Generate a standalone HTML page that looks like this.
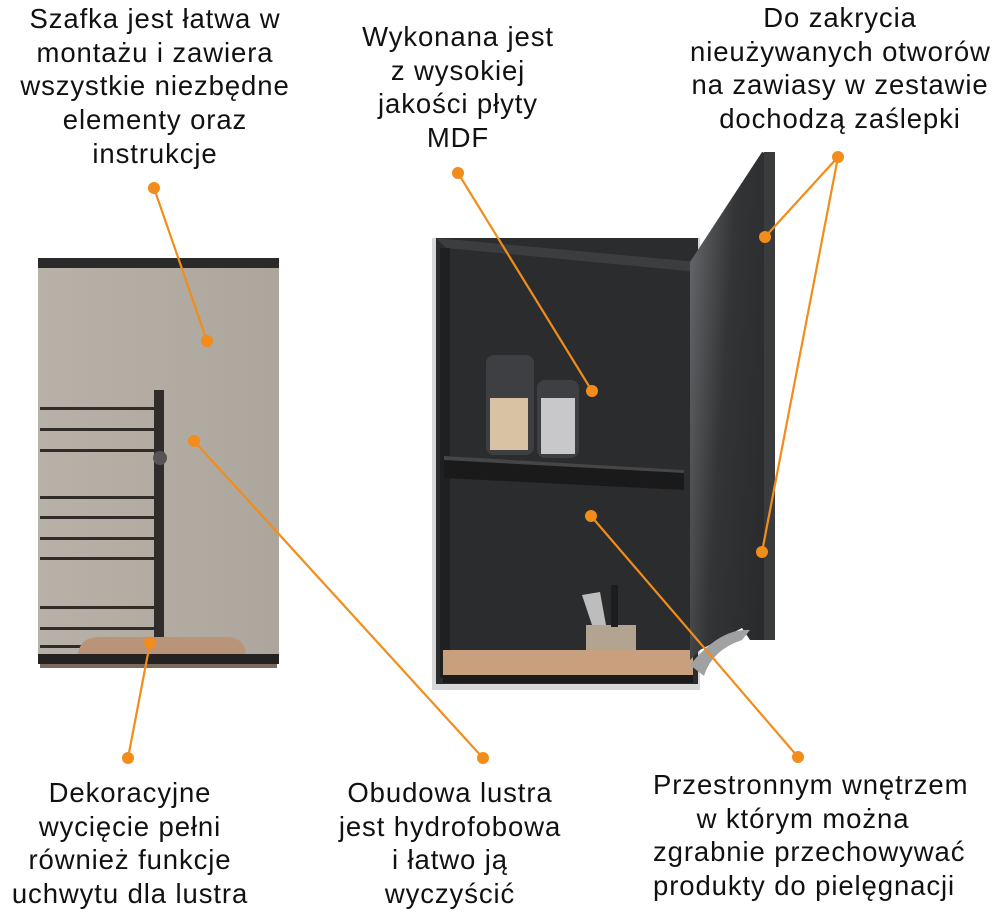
<!DOCTYPE html>
<html><head><meta charset="utf-8"><style>
html,body{margin:0;padding:0;background:#fff;}
body{width:1000px;height:913px;overflow:hidden;position:relative;font-family:"Liberation Sans",sans-serif;}
.t{position:absolute;text-align:center;font-size:27.5px;letter-spacing:0.9px;line-height:33.7px;color:#111;white-space:nowrap;}
svg{position:absolute;left:0;top:0;}
</style></head><body>
<svg width="1000" height="913" viewBox="0 0 1000 913">
<defs>
<linearGradient id="beige" x1="0" x2="1"><stop offset="0" stop-color="#b7b1a8"/><stop offset="1" stop-color="#aca69c"/></linearGradient>
<linearGradient id="door" x1="0" x2="1" y1="0" y2="0.4"><stop offset="0" stop-color="#6a6c6f"/><stop offset="0.5" stop-color="#333436"/><stop offset="1" stop-color="#2a2b2d"/></linearGradient>
</defs>
<rect x="38" y="258" width="241" height="10" fill="#2a2a2a"/>
<rect x="38" y="268" width="241" height="386" fill="url(#beige)"/>
<g fill="#2f2c2a">
<rect x="40" y="407" width="115" height="3"/><rect x="40" y="428" width="115" height="3"/><rect x="40" y="449" width="115" height="3"/>
<rect x="40" y="496" width="115" height="3"/><rect x="40" y="516" width="115" height="3"/><rect x="40" y="537" width="115" height="3"/>
<rect x="40" y="557" width="115" height="3"/><rect x="40" y="606" width="115" height="3"/><rect x="40" y="627" width="115" height="3"/>
<rect x="40" y="645" width="115" height="3"/>
<rect x="154" y="390" width="10" height="248"/>
</g>
<circle cx="160" cy="458" r="7" fill="#555"/>
<path d="M78 654 Q80 637 100 637 L226 637 Q244 637 246 654 Z" fill="#b99479"/>
<rect x="38" y="654" width="241" height="10" fill="#252322"/>
<rect x="40" y="664" width="237" height="4" fill="#7a6a5e"/>
<rect x="432" y="238" width="268" height="452" fill="#d8d8d8"/>
<rect x="436" y="238" width="262" height="446" fill="#2b2c2e"/>
<polygon points="436,238 698,262 698,272 446,248" fill="#3c3d3f"/>
<rect x="440" y="248" width="10" height="430" fill="#1f2022"/>
<polygon points="444,456 684,470 684,490 444,478" fill="#1a1a1b"/>
<polygon points="444,456 684,470 684,473 444,460" fill="#454648"/>
<rect x="486" y="355" width="48" height="100" rx="8" fill="#4a4c50" opacity="0.6"/>
<rect x="490" y="398" width="38" height="52" fill="#d7c3a4"/>
<rect x="537" y="380" width="42" height="78" rx="8" fill="#4a4c50" opacity="0.6"/>
<rect x="541" y="398" width="34" height="56" fill="#c8c8ca"/>
<rect x="443" y="650" width="250" height="25" fill="#c9a07e"/>
<rect x="443" y="675" width="250" height="8" fill="#1b1b1c"/>
<rect x="586" y="625" width="50" height="25" fill="#b3a491"/>
<polygon points="582,595 600,592 606,625 592,625" fill="#bdbdbd"/>
<rect x="611" y="585" width="7" height="42" fill="#1d1d1d"/>
<polygon points="690,262 762,152 775,156 775,640 750,640 742,628 700,650 690,660" fill="url(#door)"/>
<rect x="764" y="152" width="11" height="488" fill="#3a3b3d"/>
<path d="M690 665 Q720 628 750 630 L742 640 Q712 650 704 676 Z" fill="#9fa1a3"/>
<g stroke="#f28c1b" stroke-width="2.2" fill="none">
<line x1="154" y1="188" x2="207" y2="341"/>
<line x1="194" y1="441" x2="483" y2="758"/>
<line x1="150" y1="643" x2="128" y2="758"/>
<line x1="458" y1="173" x2="592" y2="391"/>
<line x1="838" y1="157" x2="765" y2="237"/>
<line x1="838" y1="157" x2="762" y2="552"/>
<line x1="591" y1="516" x2="798" y2="757"/>
</g>
<g fill="#f28c1b">
<circle cx="154" cy="188" r="6"/><circle cx="207" cy="341" r="6"/>
<circle cx="194" cy="441" r="6"/><circle cx="483" cy="758" r="6"/>
<circle cx="150" cy="643" r="6"/><circle cx="128" cy="758" r="6"/>
<circle cx="458" cy="173" r="6"/><circle cx="592" cy="391" r="6"/>
<circle cx="838" cy="157" r="6"/><circle cx="765" cy="237" r="6"/><circle cx="762" cy="552" r="6"/>
<circle cx="591" cy="516" r="6"/><circle cx="798" cy="757" r="6"/>
</g>
</svg>
<div class="t" style="left:5px;width:300px;top:2px;">Szafka jest łatwa w<br>montażu i zawiera<br>wszystkie niezbędne<br>elementy oraz<br>instrukcje</div>
<div class="t" style="left:308px;width:300px;top:20px;">Wykonana jest<br>z wysokiej<br>jakości płyty<br>MDF</div>
<div class="t" style="left:690px;width:300px;top:1px;">Do zakrycia<br>nieużywanych otworów<br>na zawiasy w zestawie<br>dochodzą zaślepki</div>
<div class="t" style="left:-20px;width:300px;top:776px;">Dekoracyjne<br>wycięcie pełni<br>również funkcje<br>uchwytu dla lustra</div>
<div class="t" style="left:300px;width:300px;top:776px;">Obudowa lustra<br>jest hydrofobowa<br>i łatwo ją<br>wyczyścić</div>
<div class="t" style="left:653px;width:300px;top:768px;">Przestronnym wnętrzem<br>w którym można<br>zgrabnie przechowywać<br>produkty do pielęgnacji</div>
</body></html>
